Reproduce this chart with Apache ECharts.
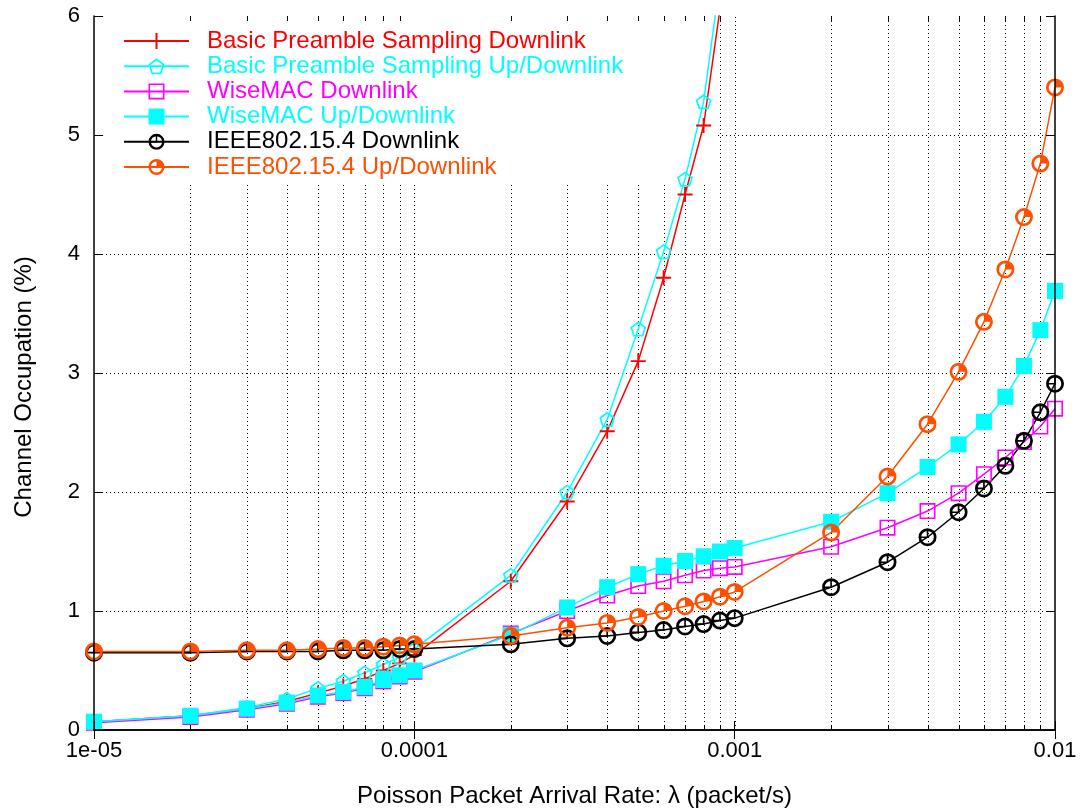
<!DOCTYPE html>
<html>
<head>
<meta charset="utf-8">
<script src="https://cdn.jsdelivr.net/npm/echarts@6.0.0/dist/echarts.min.js"></script>
<style>
  html, body { margin: 0; padding: 0; background: #ffffff; }
  #chart { width: 1084px; height: 811px; }
</style>
</head>
<body>
<div id="chart"></div>
<script>
// Packet arrival rates (packet/s) at which every protocol was evaluated
const arrivalRates = [
  1e-5, 2e-5, 3e-5, 4e-5, 5e-5, 6e-5, 7e-5, 8e-5, 9e-5, 1e-4,
  2e-4, 3e-4, 4e-4, 5e-4, 6e-4, 7e-4, 8e-4, 9e-4, 1e-3,
  2e-3, 3e-3, 4e-3, 5e-3, 6e-3, 7e-3, 8e-3, 9e-3, 1e-2
];

// Channel occupation (%) per protocol, one value per arrival rate
const bpsDownlink = [
  0.07, 0.12, 0.18, 0.24, 0.31, 0.37, 0.43, 0.50, 0.56, 0.63,
  1.25, 1.92, 2.51, 3.10, 3.80, 4.50, 5.08, 6.06
];
const bpsUpDownlink = [
  0.07, 0.12, 0.19, 0.26, 0.35, 0.41, 0.48, 0.55, 0.61, 0.68,
  1.30, 2.00, 2.61, 3.37, 4.02, 4.63, 5.28, 6.30
];
const wiseMacDownlink = [
  0.06, 0.11, 0.17, 0.22, 0.28, 0.31, 0.35, 0.41, 0.45, 0.49,
  0.81, 1.00, 1.13, 1.21, 1.25, 1.30, 1.34, 1.36, 1.37,
  1.54, 1.70, 1.84, 1.99, 2.15, 2.29, 2.42, 2.55, 2.70
];
const wiseMacUpDownlink = [
  0.07, 0.12, 0.18, 0.23, 0.29, 0.32, 0.36, 0.42, 0.46, 0.50,
  0.80, 1.03, 1.20, 1.31, 1.38, 1.42, 1.46, 1.50, 1.53,
  1.75, 1.99, 2.21, 2.40, 2.59, 2.80, 3.06, 3.36, 3.69
];
const ieeeDownlink = [
  0.65, 0.65, 0.66, 0.66, 0.66, 0.67, 0.67, 0.67, 0.68, 0.68,
  0.72, 0.77, 0.79, 0.82, 0.84, 0.87, 0.89, 0.92, 0.94,
  1.20, 1.41, 1.62, 1.83, 2.03, 2.22, 2.43, 2.67, 2.91
];
const ieeeUpDownlink = [
  0.66, 0.66, 0.67, 0.67, 0.68, 0.69, 0.69, 0.70, 0.71, 0.72,
  0.79, 0.86, 0.90, 0.95, 1.00, 1.04, 1.08, 1.12, 1.16,
  1.66, 2.13, 2.57, 3.01, 3.43, 3.87, 4.31, 4.76, 5.40
];

// Axis ticks
const xTickValues = [1e-5, 1e-4, 1e-3, 1e-2];
const xTickLabels = ['1e-05', '0.0001', '0.001', '0.01'];
const xGridValues = [
  2e-5, 3e-5, 4e-5, 5e-5, 6e-5, 7e-5, 8e-5, 9e-5, 1e-4,
  2e-4, 3e-4, 4e-4, 5e-4, 6e-4, 7e-4, 8e-4, 9e-4, 1e-3,
  2e-3, 3e-3, 4e-3, 5e-3, 6e-3, 7e-3, 8e-3, 9e-3
];
const yGridValues = [1, 2, 3, 4, 5];
const Y_MIN = 0, Y_MAX = 6;

const FONT = 'Liberation Sans, Arial, Helvetica, sans-serif';

// Point shapes, drawn as filled outlines (outer contour clockwise, hole counter-clockwise)
const SYM_PLUS = 'path://M0,8.75L20,8.75L20,11.25L0,11.25ZM8.75,0L11.25,0L11.25,20L8.75,20Z';
const SYM_PENTAGON = 'path://M10,0L19.511,6.91L15.878,18.09L4.122,18.09L0.489,6.91Z' +
  'M10,2.5L2.867,7.683L5.592,16.068L14.408,16.068L17.133,7.683Z';
const SYM_SQUARE_OPEN = 'path://M0,0L20,0L20,20L0,20ZM2,2L2,18L18,18L18,2Z';
const RING = 'M0,10A10,10 0 1,1 20,10A10,10 0 1,1 0,10Z' +
  'M3,10A7,7 0 1,0 17,10A7,7 0 1,0 3,10Z';
const SYM_CIRCLE_TICK = 'path://' + RING + 'M9.1,3L10.9,3L10.9,10.9L9.1,10.9ZM3,9.1L10.9,9.1L10.9,10.9L3,10.9Z';
const SYM_CIRCLE_QUARTER = 'path://' + RING + 'M10,10L10,3A7,7 0 0,1 17,10Z';

const seriesDefs = [
  { name: 'Basic Preamble Sampling Downlink',    values: bpsDownlink,       color: '#ff0000', symbol: SYM_PLUS,           size: 15 },
  { name: 'Basic Preamble Sampling Up/Downlink', values: bpsUpDownlink,     color: '#00ffff', symbol: SYM_PENTAGON,       size: 16 },
  { name: 'WiseMAC Downlink',                    values: wiseMacDownlink,   color: '#ff00ff', symbol: SYM_SQUARE_OPEN,    size: 16 },
  { name: 'WiseMAC Up/Downlink',                 values: wiseMacUpDownlink, color: '#00ffff', symbol: 'rect',             size: 16 },
  { name: 'IEEE802.15.4 Downlink',               values: ieeeDownlink,      color: '#000000', symbol: SYM_CIRCLE_TICK,    size: 18 },
  { name: 'IEEE802.15.4 Up/Downlink',            values: ieeeUpDownlink,    color: '#ff4f00', symbol: SYM_CIRCLE_QUARTER, size: 18 }
];

const dataSeries = seriesDefs.map(d => ({
  type: 'line',
  name: d.name,
  z: 3,
  data: d.values.map((v, i) => [arrivalRates[i], v]),
  symbol: d.symbol,
  symbolSize: d.size,
  symbolKeepAspect: true,
  showAllSymbol: true,
  color: d.color,
  lineStyle: { color: d.color, width: 1.5 },
  itemStyle: { color: d.color, borderWidth: 0 },
  emphasis: { disabled: true },
  clip: true
}));

const crisp = v => Math.round(v) + 0.5;

// Dotted grid lines drawn beneath the curves
const verticalGrid = {
  type: 'custom',
  name: 'vgrid',
  z: 1,
  silent: true,
  data: xGridValues.map(v => [v, Y_MIN]),
  encode: { x: 0, y: 1 },
  renderItem(params, api) {
    const p0 = api.coord([api.value(0), Y_MIN]);
    const p1 = api.coord([api.value(0), Y_MAX]);
    const x = crisp(p0[0]);
    return {
      type: 'line',
      shape: { x1: x, y1: p0[1], x2: x, y2: p1[1] },
      style: { stroke: '#000', lineWidth: 1, lineDash: [1, 3] }
    };
  }
};
const horizontalGrid = {
  type: 'custom',
  name: 'hgrid',
  z: 1,
  silent: true,
  data: yGridValues.map(v => [xTickValues[0], v]),
  encode: { x: 0, y: 1 },
  renderItem(params, api) {
    const p0 = api.coord([xTickValues[0], api.value(1)]);
    const p1 = api.coord([xTickValues[xTickValues.length - 1], api.value(1)]);
    const y = crisp(p0[1]);
    return {
      type: 'line',
      shape: { x1: p0[0], y1: y, x2: p1[0], y2: y },
      style: { stroke: '#000', lineWidth: 1, lineDash: [1, 3] }
    };
  }
};
// Short minor ticks on the bottom and top borders
const minorTicks = {
  type: 'custom',
  name: 'minorTicks',
  z: 6,
  silent: true,
  data: xGridValues.filter(v => xTickValues.indexOf(v) < 0).map(v => [v, Y_MIN]),
  encode: { x: 0, y: 1 },
  renderItem(params, api) {
    const p0 = api.coord([api.value(0), Y_MIN]);
    const p1 = api.coord([api.value(0), Y_MAX]);
    const x = crisp(p0[0]);
    const st = { stroke: '#000', lineWidth: 1 };
    return {
      type: 'group',
      children: [
        { type: 'line', shape: { x1: x, y1: p0[1], x2: x, y2: p0[1] - 5 }, style: st },
        { type: 'line', shape: { x1: x, y1: p1[1], x2: x, y2: p1[1] + 5 }, style: st }
      ]
    };
  }
};

const xLabel = v => {
  const i = Math.round(Math.log10(v)) + 5;
  return xTickLabels[i] !== undefined ? xTickLabels[i] : '';
};

const axisLineStyle = { color: '#000', width: 1.5 };

const option = {
  animation: false,
  backgroundColor: '#ffffff',
  textStyle: { fontFamily: FONT },
  grid: { left: 94, right: 29, top: 16, bottom: 81, containLabel: false, outerBoundsMode: 'none' },
  legend: {
    orient: 'vertical',
    left: 123,
    top: 29,
    padding: 0,
    itemGap: 1.2,
    itemWidth: 65,
    itemHeight: 20,
    selectedMode: false,
    data: seriesDefs.map(d => ({ name: d.name, textStyle: { color: d.color } })),
    textStyle: { fontFamily: FONT, fontSize: 24, padding: [0, 0, 0, 13] }
  },
  xAxis: [
    {
      type: 'log', logBase: 10, min: xTickValues[0], max: xTickValues[xTickValues.length - 1],
      position: 'bottom', z: 5,
      name: 'Poisson Packet Arrival Rate: λ (packet/s)',
      nameLocation: 'middle', nameGap: 54,
      nameTextStyle: { fontFamily: FONT, fontSize: 24, color: '#000' },
      axisLine: { show: true, lineStyle: axisLineStyle },
      axisTick: { show: true, inside: true, length: 9, lineStyle: { color: '#000', width: 1 } },
      axisLabel: { fontFamily: FONT, fontSize: 22, color: '#000', margin: 10, formatter: xLabel, showMinLabel: true, showMaxLabel: true },
      splitLine: { show: false },
      minorTick: { show: false }
    },
    {
      type: 'log', logBase: 10, min: xTickValues[0], max: xTickValues[xTickValues.length - 1],
      position: 'top', z: 5,
      axisLine: { show: true, lineStyle: axisLineStyle },
      axisTick: { show: true, inside: true, length: 9, lineStyle: { color: '#000', width: 1 } },
      axisLabel: { show: false },
      splitLine: { show: false }
    }
  ],
  yAxis: [
    {
      type: 'value', min: Y_MIN, max: Y_MAX, interval: 1, position: 'left', z: 5,
      name: 'Channel Occupation (%)',
      nameLocation: 'middle', nameGap: 58, nameRotate: 90,
      nameTextStyle: { fontFamily: FONT, fontSize: 24, color: '#000', padding: [0, 28, 0, 0] },
      axisLine: { show: true, lineStyle: axisLineStyle },
      axisTick: { show: true, inside: true, length: 9, lineStyle: { color: '#000', width: 1 } },
      axisLabel: { fontFamily: FONT, fontSize: 22, color: '#000', margin: 14 },
      splitLine: { show: false }
    },
    {
      type: 'value', min: Y_MIN, max: Y_MAX, interval: 1, position: 'right', z: 5,
      axisLine: { show: true, lineStyle: axisLineStyle },
      axisTick: { show: true, inside: true, length: 9, lineStyle: { color: '#000', width: 1 } },
      axisLabel: { show: false },
      splitLine: { show: false }
    }
  ],
  graphic: [
    {
      // opaque key box, hiding the grid behind the legend
      type: 'rect', left: 95, top: 17, z: 2, silent: true,
      shape: { width: 622, height: 167 },
      style: { fill: '#ffffff' }
    }
  ],
  series: [verticalGrid, horizontalGrid].concat(dataSeries, [minorTicks])
};

const chart = echarts.init(document.getElementById('chart'), null, { renderer: 'canvas' });
chart.setOption(option);
</script>
</body>
</html>
